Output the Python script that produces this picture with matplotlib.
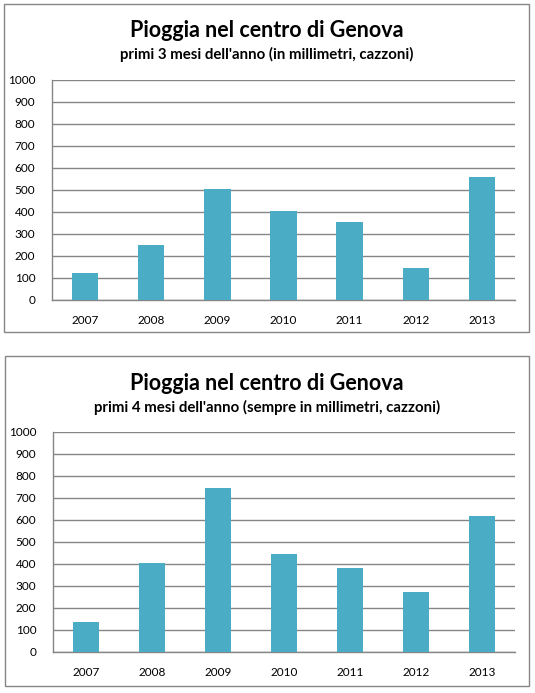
import matplotlib
matplotlib.use('Agg')
import matplotlib.pyplot as plt
from matplotlib.patches import Rectangle

plt.rcParams['font.family'] = ['Lato', 'DejaVu Sans']

years = ['2007', '2008', '2009', '2010', '2011', '2012', '2013']
rain_3_months = [124, 249, 503, 403, 355, 147, 557]
rain_4_months = [137, 406, 745, 446, 383, 275, 618]

title = 'Pioggia nel centro di Genova'
subtitle_3 = "primi 3 mesi dell'anno (in millimetri, cazzoni)"
subtitle_4 = "primi 4 mesi dell'anno (sempre in millimetri, cazzoni)"

W, H = 535, 693
BAR = '#4bacc6'
GRID = '#868686'

fig = plt.figure(figsize=(W / 100, H / 100), dpi=100)


def px(x0, y0, x1, y1):
    # pixel box (top-left origin) -> figure fraction rect
    return [x0 / W, 1 - y1 / H, (x1 - x0) / W, (y1 - y0) / H]


def panel(box, plot, values, subtitle, title_y, sub_y):
    bx = px(*box)
    fig.patches.append(Rectangle((bx[0], bx[1]), bx[2], bx[3], transform=fig.transFigure,
                                 fill=False, edgecolor=GRID, linewidth=1.0))
    cx = (box[0] + box[2]) / 2 / W
    fig.text(cx, 1 - title_y / H, title, ha='center', va='baseline',
             fontsize=15.5, fontweight='bold')
    fig.text(cx, 1 - sub_y / H, subtitle, ha='center', va='baseline',
             fontsize=10.8, fontweight='bold')

    ax = fig.add_axes(px(*plot))
    x = range(len(years))
    ax.bar(x, values, width=0.4, color=BAR, zorder=3)
    ax.set_xlim(-0.5, len(years) - 0.5)
    ax.set_ylim(0, 1000)
    ax.set_yticks(range(0, 1001, 100))
    ax.set_xticks(list(x))
    ax.set_xticklabels(years)
    ax.yaxis.grid(True, color=GRID, linewidth=1.0, zorder=0)
    for side in ['top', 'right']:
        ax.spines[side].set_visible(False)
    for side in ['left', 'bottom']:
        ax.spines[side].set_color(GRID)
        ax.spines[side].set_linewidth(1.0)
    ax.tick_params(axis='y', length=0, pad=12, labelsize=8.5, colors='black')
    ax.tick_params(axis='x', length=0, pad=11, labelsize=8.5, colors='black')
    return ax


panel((4, 4, 529, 332), (52, 80, 515, 300), rain_3_months, subtitle_3, 37, 59)
panel((5, 356, 529, 686), (53, 432, 515, 652), rain_4_months, subtitle_4, 390, 412)

fig.savefig('out.png', dpi=100)
